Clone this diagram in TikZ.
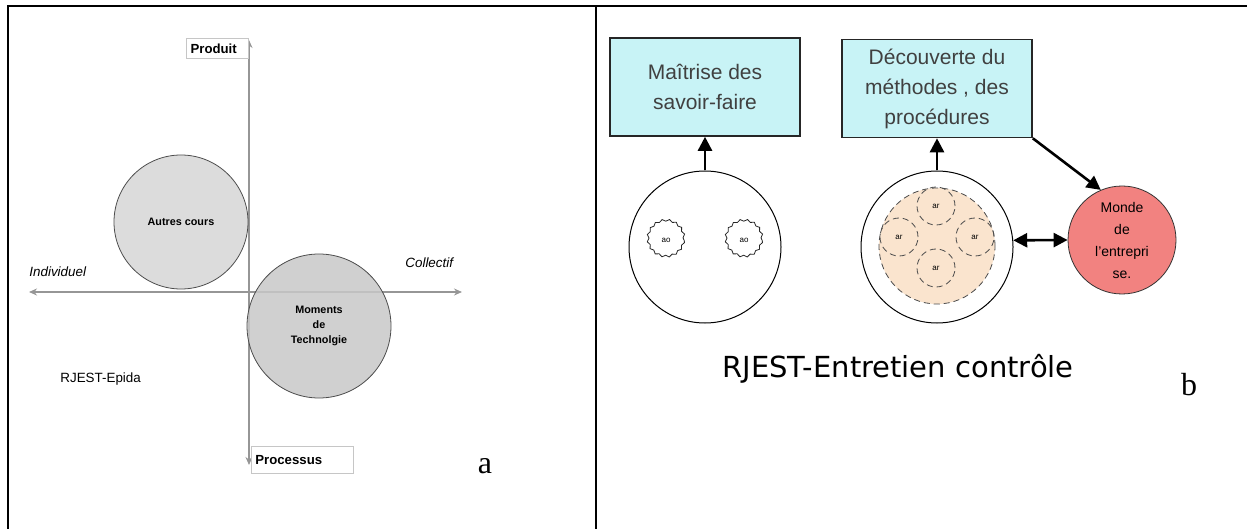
\documentclass[tikz,border=0pt]{standalone}
\usepackage{fontspec}
\setmainfont{Liberation Serif}
\setsansfont{Liberation Sans}
\newfontfamily\titlefont{DejaVu Sans}
\usetikzlibrary{arrows.meta,decorations.pathmorphing}

\definecolor{boxcyan}{RGB}{200,243,246}
\definecolor{peach}{RGB}{250,228,206}
\definecolor{salmon}{RGB}{242,130,128}
\definecolor{discgray}{RGB}{214,214,214}
\definecolor{discdark}{RGB}{200,200,200}
\definecolor{axisgray}{RGB}{150,150,150}

\begin{document}
\begin{tikzpicture}[
    x=0.5pt, y=-0.5pt,
    frame/.style={line width=1pt, black},
    axis/.style={line width=1pt, axisgray, {Stealth[length=4pt,width=3.5pt]}-{Stealth[length=4pt,width=3.5pt]}},
    axisbox/.style={rectangle, draw=gray!45, fill=white, inner xsep=2pt, inner ysep=0pt, font=\sffamily\bfseries\fontsize{6.6}{8}\selectfont},
    axistext/.style={font=\sffamily\fontsize{6.7}{8}\selectfont, inner sep=0pt},
    disc/.style={circle, draw=black!70, line width=0.4pt, fill=discgray, fill opacity=0.85, text opacity=1, align=center, font=\sffamily\bfseries\fontsize{5.4}{7.5}\selectfont},
    goal/.style={rectangle, draw=black!85, line width=0.8pt, fill=boxcyan, minimum width=95pt, minimum height=49pt, align=center, text=black!75, font=\sffamily\fontsize{10.5}{15}\selectfont},
    group/.style={circle, draw=black, line width=0.5pt, fill=white, minimum size=76pt},
    ao/.style={circle, draw=black!85, minimum size=18pt, inner sep=0pt, decorate, decoration={snake, segment length=3.5pt, amplitude=0.5pt}, font=\sffamily\fontsize{4}{5}\selectfont},
    member/.style={circle, draw=black!70, densely dashed, minimum size=19pt, inner sep=0pt, font=\sffamily\fontsize{4}{5}\selectfont},
    link/.style={line width=1.3pt, -{Triangle[length=7pt,width=7pt]}},
    dlink/.style={line width=1.3pt, {Triangle[length=7pt,width=7pt]}-{Triangle[length=7pt,width=7pt]}},
    tag/.style={font=\fontsize{16}{18}\selectfont, inner sep=0pt}
]
\useasboundingbox (0,0) rectangle (1247,529);

% --- Table frame ---
\draw[frame] (8,529) -- (8,6) -- (1247,6);
\draw[frame] (596,6) -- (596,529);

% --- Left panel ---
\coordinate (ytop) at (249,40);
\coordinate (ybot) at (249,465);
\coordinate (xleft) at (29,292);
\coordinate (xright) at (462,292);

\draw[axis] (ybot) -- (ytop);
\draw[axis] (xleft) -- (xright);

\node[disc, minimum size=67pt] (autres) at (181,222) {Autres cours};
\node[disc, fill=discdark, minimum size=72pt] (moments) at (319,326) {Moments\\de\\Technolgie};

\node[axisbox, anchor=north east, minimum height=10pt, text width=27pt] (produit) at (249,38) {Produit};
\node[axisbox, anchor=north west, minimum height=13.5pt, text width=47pt] (processus) at (251,446) {Processus};

\node[axistext, anchor=west] (indiv) at (29,272) {\itshape Individuel};
\node[axistext, anchor=west] (collectif) at (405,263) {\itshape Collectif};
\node[axistext, anchor=west] (epida) at (60,379) {RJEST-Epida};
\node[tag] (taga) at (485,466) {a};

% --- Right panel ---
\node[goal] (maitrise) at (705,87) {Maîtrise des\\savoir-faire};
\node[goal] (decouverte) at (937,88.5) {Découverte du\\méthodes , des\\procédures};

\node[group] (solo) at (705,247) {};
\node[ao] (ao1) at (666,240) {ao};
\node[ao] (ao2) at (744,240) {ao};

\node[group] (equipe) at (937,247) {};
\node[circle, draw=black!70, densely dashed, fill=peach, minimum size=58pt] (noyau) at (937,246) {};
\node[member] (m1) at (936,206) {ar};
\node[member] (m2) at (899,237) {ar};
\node[member] (m3) at (975,237) {ar};
\node[member] (m4) at (936,268) {ar};

\node[circle, draw=black!80, fill=salmon, minimum size=54pt, inner sep=0pt, align=center, font=\sffamily\fontsize{7}{11}\selectfont] (monde) at (1122,240) {Monde\\de\\l'entrepri\\se.};

\draw[link] (solo.north) -- (maitrise.south);
\draw[link] (equipe.north) -- (decouverte.south);
\draw[link] (decouverte.south east) -- (monde.113);
\draw[dlink] (equipe.5) -- (monde.west);

\node[font=\titlefont\fontsize{14.5}{16}\selectfont] (titre) at (898,369) {RJEST-Entretien contrôle};
\node[tag] (tagb) at (1189,385) {b};

\end{tikzpicture}
\end{document}
